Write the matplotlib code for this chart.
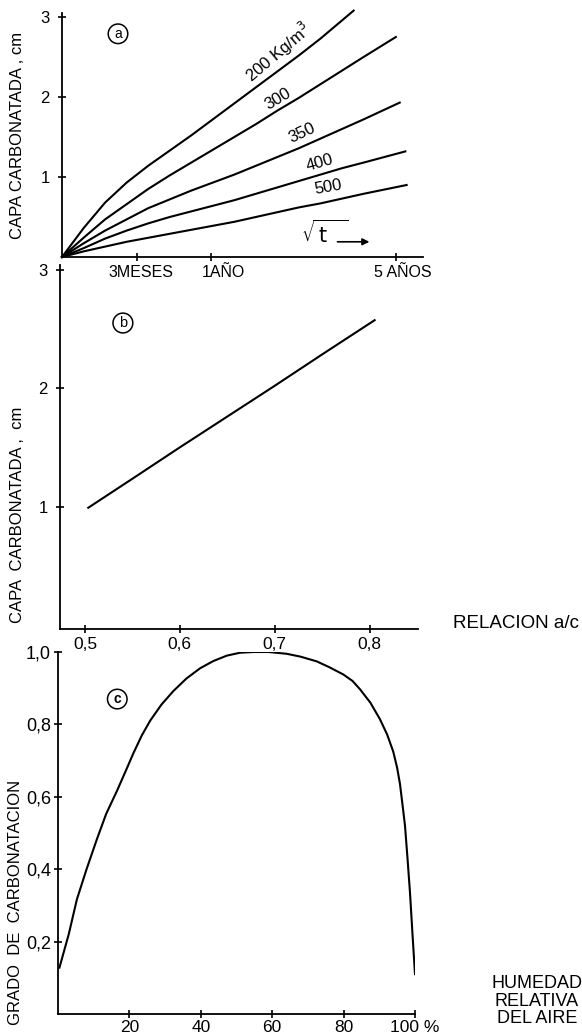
import numpy as np
import matplotlib
matplotlib.use("Agg")
import matplotlib.pyplot as plt
import matplotlib.transforms as mtransforms

plt.rcParams['font.family'] = ['Liberation Sans', 'DejaVu Sans']

# --- panel a: depth vs sqrt(t), t in months
a_x_ticks = [np.sqrt(3), np.sqrt(12), np.sqrt(60)]
a_x_labels = ['3MESES', '1AÑO', '5 AÑOS']
a_sq = [0, 0.5, 1.0, 1.5, 2.0, 2.5, 3.0, 3.5, 4.0, 4.5, 5.0, 5.5, 6.0, 6.5, 7.0]
a_curves = {
    '200': (a_sq[:13] + [6.77],
            [0, 0.36, 0.68, 0.93, 1.14, 1.33, 1.52, 1.72, 1.92, 2.12, 2.32, 2.52, 2.73, 3.08]),
    '300': (a_sq + [7.75],
            [0, 0.24, 0.47, 0.66, 0.85, 1.02, 1.18, 1.34, 1.50, 1.66, 1.83, 1.99, 2.16, 2.33, 2.50, 2.75]),
    '350': (a_sq + [7.84],
            [0, 0.17, 0.33, 0.47, 0.61, 0.72, 0.83, 0.93, 1.03, 1.14, 1.25, 1.36, 1.48, 1.60, 1.72, 1.93]),
    '400': (a_sq + [7.97],
            [0, 0.11, 0.23, 0.33, 0.42, 0.50, 0.57, 0.64, 0.71, 0.79, 0.87, 0.95, 1.03, 1.11, 1.18, 1.32]),
    '500': (a_sq + [8.0],
            [0, 0.07, 0.13, 0.19, 0.24, 0.29, 0.34, 0.39, 0.44, 0.50, 0.56, 0.62, 0.67, 0.73, 0.79, 0.90]),
}
a_y_ticks = [1, 2, 3]

# --- panel b: depth vs water/cement ratio
b_x = [0.5035, 0.55, 0.6, 0.65, 0.7, 0.75, 0.8053]
b_y = [0.99, 1.235, 1.50, 1.76, 2.02, 2.285, 2.574]
b_x_ticks = [0.5, 0.6, 0.7, 0.8]
b_x_labels = ['0,5', '0,6', '0,7', '0,8']

# --- panel c: degree of carbonation vs relative humidity
c_x = [0.4, 3, 5.3, 8, 10.9, 13.5, 16.5, 19, 21.1, 23.5, 25.8, 29, 32.3, 36, 39.8, 43.5, 47.3,
       51, 54.7, 59, 64.1, 68, 72.5, 76, 79.9, 82.5, 84.6, 87.5, 90.2, 92.2, 93.9, 95.0, 95.8,
       96.6, 97.2, 97.9, 98.6, 99.3, 100]
c_y = [0.128, 0.22, 0.317, 0.40, 0.483, 0.553, 0.616, 0.672, 0.72, 0.77, 0.81, 0.855, 0.892,
       0.927, 0.955, 0.975, 0.99, 0.998, 1.0, 1.0, 0.995, 0.987, 0.974, 0.958, 0.938, 0.92,
       0.897, 0.86, 0.814, 0.772, 0.725, 0.68, 0.635, 0.57, 0.52, 0.43, 0.335, 0.22, 0.11]
c_x_ticks = [20, 40, 60, 80, 100]
c_x_labels = ['20', '40', '60', '80', '100 %']
c_y_ticks = [0.2, 0.4, 0.6, 0.8, 1.0]
c_y_labels = ['0,2', '0,4', '0,6', '0,8', '1,0']

W, H = 582, 1034
fig = plt.figure(figsize=(W / 100, H / 100), dpi=100)


def box(l, r, b, t):
    return [l / W, 1 - b / H, (r - l) / W, (b - t) / H]


def style(ax):
    ax.set_facecolor('none')
    for s in ['top', 'right']:
        ax.spines[s].set_visible(False)
    for s in ['left', 'bottom']:
        ax.spines[s].set_linewidth(1.3)
    ax.tick_params(direction='inout', length=6, width=1.2, pad=3)


circ = dict(boxstyle='circle,pad=0.2', fc='white', ec='black', lw=1.1)

# panel a
ax1 = fig.add_axes(box(62, 423, 257, 13))
style(ax1)
for k, (xs, ys) in a_curves.items():
    ax1.plot(xs, ys, color='black', lw=1.5, clip_on=False)
ax1.set_xlim(0, 8.38)
ax1.set_ylim(0, 3.05)
ax1.set_xticks(a_x_ticks)
ax1.set_xticklabels(a_x_labels, fontsize=11.5)
for lab, dx in zip(ax1.get_xticklabels(), [4, 12, 7]):
    lab.set_transform(lab.get_transform() + mtransforms.ScaledTranslation(dx / 100, 0, fig.dpi_scale_trans))
ax1.set_yticks(a_y_ticks)
ax1.set_yticklabels(['1', '2', '3'], fontsize=12)
ax1.tick_params(axis='y', pad=6)
fig.text(18 / W, 1 - 135 / H, 'CAPA CARBONATADA , cm', rotation=90, fontsize=12,
         ha='center', va='center')
ax1.text(1.3, 2.79, 'a', fontsize=10, ha='center', va='center', bbox=circ)
lbls = [('200 Kg/m$^3$', 5.01, 2.56, 40), ('300', 5.01, 1.98, 31), ('350', 5.57, 1.55, 25),
        ('400', 5.99, 1.18, 16), ('500', 6.17, 0.87, 10)]
for t, x, y, r in lbls:
    ax1.text(x, y, t, fontsize=12, rotation=r, ha='center', va='center')
ax1.text(6.1, 0.30, r'$\sqrt{\,\mathsf{t}\;\;\;}$', fontsize=15, ha='center', va='center')
ax1.annotate('', xy=(7.2, 0.19), xytext=(6.33, 0.19),
             arrowprops=dict(arrowstyle='-|>', lw=1.2, color='black', mutation_scale=10))

# panel b
ax2 = fig.add_axes(box(60, 418, 629, 265))
style(ax2)
ax2.plot(b_x, b_y, color='black', lw=1.5)
ax2.set_xlim(0.4737, 0.851)
ax2.set_ylim(-0.034, 3.04)
ax2.set_xticks(b_x_ticks)
ax2.set_xticklabels(b_x_labels, fontsize=12.5)
ax2.set_yticks([1, 2, 3])
ax2.set_yticklabels(['1', '2', '3'], fontsize=12)
ax2.tick_params(axis='y', pad=6)
fig.text(18 / W, 1 - 515 / H, 'CAPA  CARBONATADA ,  cm', rotation=90, fontsize=12,
         ha='center', va='center')
ax2.text(0.540, 2.55, 'b', fontsize=10.5, ha='center', va='center', bbox=circ)
fig.text(453 / W, 1 - 624 / H, 'RELACION a/c', fontsize=13.5, ha='left', va='center')

# panel c
ax3 = fig.add_axes(box(58, 415, 1014, 652))
style(ax3)
ax3.plot(c_x, c_y, color='black', lw=1.5)
ax3.set_xlim(0, 100)
ax3.set_ylim(0, 1.0)
ax3.set_xticks(c_x_ticks)
ax3.set_xticklabels(c_x_labels, fontsize=12.5)
ax3.tick_params(axis='x', pad=1)
ax3.set_yticks(c_y_ticks)
ax3.set_yticklabels(c_y_labels, fontsize=13)
ax3.tick_params(axis='y', pad=2)
fig.text(16 / W, 1 - 902 / H, 'GRADO  DE  CARBONATACION', rotation=90, fontsize=12,
         ha='center', va='center')
ax3.text(16.6, 0.87, 'c', fontsize=10, fontweight='bold', ha='center', va='center', bbox=circ)
fig.text(537 / W, 1 - 1001 / H, 'HUMEDAD\nRELATIVA\nDEL AIRE', fontsize=13,
         ha='center', va='center', linespacing=1.05)

fig.savefig('out.png', dpi=100)
